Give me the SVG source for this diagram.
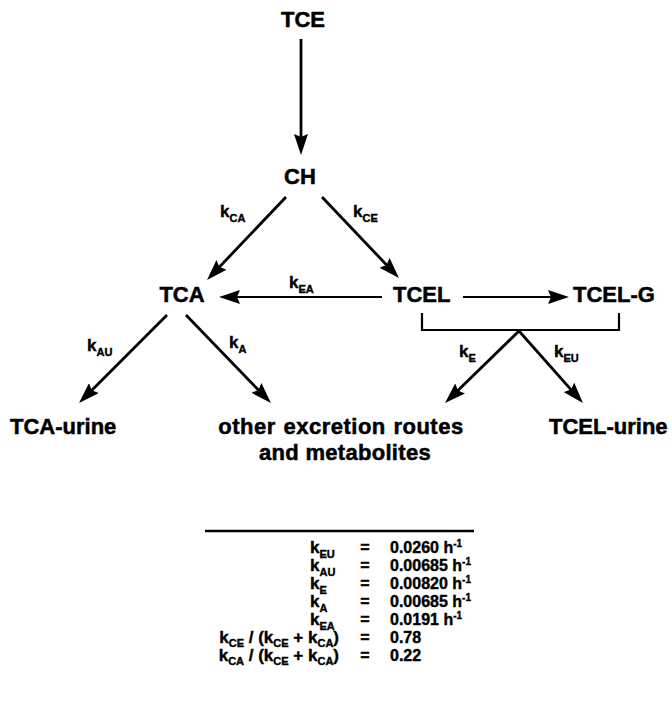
<svg xmlns="http://www.w3.org/2000/svg" width="672" height="704" viewBox="0 0 672 704">
<style>
.n{font-family:"Liberation Sans",Arial,sans-serif;font-weight:bold;font-size:22px;fill:#000;stroke:#000;stroke-width:0.5}
.k{font-family:"Liberation Sans",Arial,sans-serif;font-weight:bold;font-size:17px;fill:#000;stroke:#000;stroke-width:0.4}
.t{font-family:"Liberation Sans",Arial,sans-serif;font-weight:bold;font-size:16px;fill:#000;stroke:#000;stroke-width:0.4}
.s{font-size:11px}
.p{font-size:10px}
.c{stroke:#000;stroke-width:2.8;fill:none}
.h{stroke:#000;stroke-width:2.2;fill:none}
</style>
<defs>
<marker id="ah" markerUnits="userSpaceOnUse" markerWidth="22" markerHeight="14" refX="11" refY="7" orient="auto">
<path d="M0,0 L21,7 L0,14 L3,7 z" fill="#000"/>
</marker>
</defs>
<rect width="672" height="704" fill="#fff"/>
<g id="TCE"><text class="n" x="303" y="27" text-anchor="middle">TCE</text></g>
<g id="CH"><text class="n" x="300" y="184" text-anchor="middle">CH</text></g>
<g id="TCA"><text class="n" x="182" y="302" text-anchor="middle">TCA</text></g>
<g id="TCEL"><text class="n" x="393" y="302">TCEL</text></g>
<g id="TCEL-G"><text class="n" x="573" y="302">TCEL-G</text></g>
<g id="TCA-urine"><text class="n" x="10" y="434">TCA-urine</text></g>
<g id="other"><text class="n" x="341" y="434" text-anchor="middle" letter-spacing="0.5" word-spacing="1">other excretion routes</text><text class="n" x="345" y="460" text-anchor="middle" letter-spacing="0.3">and metabolites</text></g>
<g id="TCEL-urine"><text class="n" x="549" y="434">TCEL-urine</text></g>
<g id="connectors">
<line class="c" x1="301" y1="39" x2="301" y2="145" marker-end="url(#ah)"/>
<line class="c" x1="286" y1="197" x2="213.9" y2="272.8" marker-end="url(#ah)"/>
<line class="c" x1="322" y1="197" x2="392.1" y2="270.8" marker-end="url(#ah)"/>
<line class="h" x1="382" y1="297" x2="229" y2="297" marker-end="url(#ah)"/>
<line class="h" x1="463" y1="297" x2="559" y2="297" marker-end="url(#ah)"/>
<line class="c" x1="167" y1="315" x2="86.1" y2="395.9" marker-end="url(#ah)"/>
<line class="c" x1="186" y1="315" x2="264" y2="395.8" marker-end="url(#ah)"/>
<path class="h" d="M422,313 V330 H619 V313" stroke-width="2.5"/>
<line class="c" x1="519" y1="331" x2="452.2" y2="396.1" marker-end="url(#ah)"/>
<line class="c" x1="519" y1="331" x2="576.3" y2="395.6" marker-end="url(#ah)"/>
</g>
<g id="labels">
<text class="k" x="220" y="217">k<tspan class="s" dy="5">CA</tspan></text>
<text class="k" x="353" y="217">k<tspan class="s" dy="5">CE</tspan></text>
<text class="k" x="289" y="288">k<tspan class="s" dy="5">EA</tspan></text>
<text class="k" x="87" y="351">k<tspan class="s" dy="5">AU</tspan></text>
<text class="k" x="229" y="348">k<tspan class="s" dy="5">A</tspan></text>
<text class="k" x="459" y="357">k<tspan class="s" dy="5">E</tspan></text>
<text class="k" x="554" y="357">k<tspan class="s" dy="5">EU</tspan></text>
</g>
<g id="table">
<line x1="205" y1="531" x2="474" y2="531" stroke="#000" stroke-width="2.5"/>
<text class="k" x="310" y="553">k<tspan class="s" dy="5">EU</tspan></text>
<text class="k" x="310" y="571">k<tspan class="s" dy="5">AU</tspan></text>
<text class="k" x="310" y="589">k<tspan class="s" dy="5">E</tspan></text>
<text class="k" x="310" y="607">k<tspan class="s" dy="5">A</tspan></text>
<text class="k" x="310" y="625">k<tspan class="s" dy="5">EA</tspan></text>
<text class="k" x="339" y="643" text-anchor="end">k<tspan class="s" dy="4">CE</tspan><tspan dy="-4"> / (k</tspan><tspan class="s" dy="4">CE</tspan><tspan dy="-4"> + k</tspan><tspan class="s" dy="4">CA</tspan><tspan dy="-4">)</tspan></text>
<text class="k" x="339" y="661" text-anchor="end">k<tspan class="s" dy="4">CA</tspan><tspan dy="-4"> / (k</tspan><tspan class="s" dy="4">CE</tspan><tspan dy="-4"> + k</tspan><tspan class="s" dy="4">CA</tspan><tspan dy="-4">)</tspan></text>
<text class="t" x="365" y="553" text-anchor="middle">=</text>
<text class="t" x="365" y="571" text-anchor="middle">=</text>
<text class="t" x="365" y="589" text-anchor="middle">=</text>
<text class="t" x="365" y="607" text-anchor="middle">=</text>
<text class="t" x="365" y="625" text-anchor="middle">=</text>
<text class="t" x="365" y="643" text-anchor="middle">=</text>
<text class="t" x="365" y="661" text-anchor="middle">=</text>
<text class="t" x="390" y="553">0.0260 h<tspan class="p" dy="-6">-1</tspan></text>
<text class="t" x="390" y="571">0.00685 h<tspan class="p" dy="-6">-1</tspan></text>
<text class="t" x="390" y="589">0.00820 h<tspan class="p" dy="-6">-1</tspan></text>
<text class="t" x="390" y="607">0.00685 h<tspan class="p" dy="-6">-1</tspan></text>
<text class="t" x="390" y="625">0.0191 h<tspan class="p" dy="-6">-1</tspan></text>
<text class="t" x="390" y="643">0.78</text>
<text class="t" x="390" y="661">0.22</text>
</g>
</svg>
